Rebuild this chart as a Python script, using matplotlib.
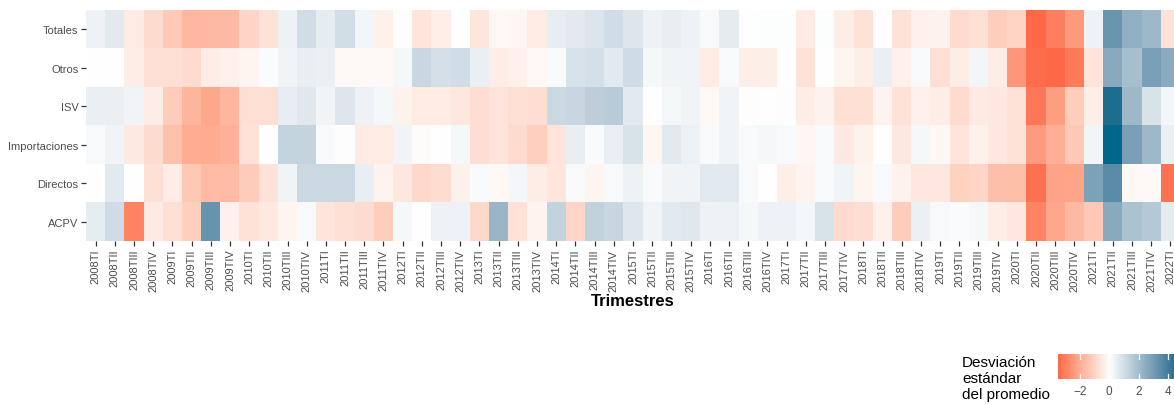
import numpy as np
import matplotlib
matplotlib.use("Agg")
import matplotlib.pyplot as plt
from matplotlib.colors import ListedColormap, Normalize
import matplotlib.transforms as mtransforms

plt.rcParams['font.family'] = ['Liberation Sans', 'DejaVu Sans']

quarters = [
    "2008TI", "2008TII", "2008TIII", "2008TIV", "2009TI", "2009TII", "2009TIII", "2009TIV",
    "2010TI", "2010TII", "2010TIII", "2010TIV", "2011TI", "2011TII", "2011TIII", "2011TIV",
    "2012TI", "2012TII", "2012TIII", "2012TIV", "2013TI", "2013TII", "2013TIII", "2013TIV",
    "2014TI", "2014TII", "2014TIII", "2014TIV", "2015TI", "2015TII", "2015TIII", "2015TIV",
    "2016TI", "2016TII", "2016TIII", "2016TIV", "2017TI", "2017TII", "2017TIII", "2017TIV",
    "2018TI", "2018TII", "2018TIII", "2018TIV", "2019TI", "2019TII", "2019TIII", "2019TIV",
    "2020TI", "2020TII", "2020TIII", "2020TIV", "2021TI", "2021TII", "2021TIII", "2021TIV",
    "2022TI",
]
series = ["Totales", "Otros", "ISV", "Importaciones", "Directos", "ACPV"]

totales = [0.35, 0.61, -0.48, -0.86, -1.30, -1.75, -1.70, -1.70, -1.02, -0.72,
           0.35, 0.98, 0.52, 0.95, 0.23, -0.35, 0.03, -0.64, -0.40, 0.00,
           -0.61, -0.17, -0.20, -0.48, 0.49, 0.61, 0.75, 0.98, 0.72, 0.35,
           0.47, 0.35, 0.17, 0.55, 0.00, 0.05, 0.05, -0.48, 0.06, -0.42,
           -0.70, 0.02, -0.72, -0.37, -0.32, -0.89, -0.78, -1.21, -1.05, -3.50,
           -3.02, -2.45, 0.35, 3.20, 2.38, 2.10, -0.72]
otros = [0.00, 0.00, -0.45, -0.78, -0.78, -0.86, -0.45, -0.37, -0.23, 0.10,
         0.32, 0.47, 0.42, -0.14, -0.12, -0.14, 0.20, 1.15, 0.92, 0.98,
         0.45, -0.45, -0.35, -0.17, 0.12, 0.83, 0.92, 0.58, 1.02, 0.20,
         0.30, 0.32, -0.48, 0.17, -0.40, -0.40, 0.00, -0.72, 0.00, -0.23,
         -0.40, 0.45, -0.35, 0.14, -0.78, -0.42, 0.25, -0.42, -2.50, -3.40,
         -3.50, -3.13, -0.64, 2.54, 1.89, 2.86, 2.48]
isv = [0.44, 0.44, 0.32, -0.42, -1.24, -1.78, -2.14, -1.76, -0.78, -0.78,
       0.50, 0.65, 0.32, 0.72, 0.35, 0.20, -0.32, -0.48, -0.48, -0.58,
       -0.80, -0.64, -0.78, -0.80, 1.12, 1.20, 1.42, 1.51, 0.58, 0.00,
       0.20, 0.30, -0.17, 0.30, 0.04, 0.00, 0.04, -0.45, -0.32, -0.75,
       -0.75, -0.30, -0.70, -0.35, -0.45, -0.89, -0.50, -0.58, -0.72, -3.20,
       -2.33, -1.21, -0.40, 4.48, 2.10, 0.85, 0.22]
importaciones = [0.17, 0.30, -0.53, -0.86, -1.50, -2.00, -2.02, -1.90, -0.72, 0.00,
                 1.26, 1.26, 0.12, 0.04, -0.48, -0.48, 0.30, -0.05, 0.00, 0.20,
                 -0.80, -0.64, -0.86, -1.16, -0.64, 0.47, 0.12, 0.45, 0.83, -0.20,
                 0.58, 0.38, 0.14, 0.32, 0.14, 0.20, 0.14, -0.20, 0.14, -0.50,
                 -0.32, 0.00, -0.58, 0.20, -0.17, -0.64, -0.37, -0.58, -0.72, -2.40,
                 -1.93, -1.33, 0.27, 4.70, 2.88, 2.09, 0.44]
directos = [0.00, 0.61, 0.00, -0.78, -0.42, -1.35, -1.67, -1.67, -1.24, -0.72,
            0.32, 1.12, 1.12, 1.12, 0.47, -0.30, -0.58, -0.94, -0.83, -0.35,
            0.12, -0.17, 0.22, -0.45, -0.61, 0.14, -0.25, 0.14, 0.37, 0.15,
            0.32, 0.30, 0.63, 0.63, 0.14, 0.00, -0.40, -0.30, 0.14, 0.30,
            -0.23, 0.15, -0.32, -0.58, -0.58, -1.13, -1.02, -1.55, -1.57, -3.32,
            -2.20, -2.18, 2.79, 3.49, -0.17, -0.12, -3.30]
acpv = [0.52, 1.02, -2.95, -0.50, -0.78, -1.16, 3.25, -0.35, -0.72, -0.53,
        -0.23, 0.14, -0.64, -0.78, -0.86, -1.19, 0.20, 0.02, 0.35, 0.35,
        -0.95, 2.18, -0.72, -0.30, 1.28, -1.00, 1.30, 1.20, 0.70, 0.32,
        0.61, 0.66, 0.35, 0.38, 0.20, 0.35, 0.35, 0.22, 0.83, -0.89,
        -0.80, -0.35, -1.24, 0.42, 0.17, 0.10, 0.20, -0.45, -0.58, -2.95,
        -2.14, -1.70, -1.33, 2.54, 1.80, 1.60, 0.56]

# ---- diverging palette interpolated in CIELAB (low / mid / high) ----
_M = np.array([[0.4124564, 0.3575761, 0.1804375],
               [0.2126729, 0.7151522, 0.0721750],
               [0.0193339, 0.1191920, 0.9503041]])
_Minv = np.linalg.inv(_M)
_WP = np.array([0.95047, 1.0, 1.08883])


def _to_lab(rgb255):
    c = np.asarray(rgb255, float) / 255.0
    lin = np.where(c <= 0.04045, c / 12.92, ((c + 0.055) / 1.055) ** 2.4)
    xyz = _M @ lin / _WP
    d = 6 / 29
    f = np.where(xyz > d ** 3, np.cbrt(xyz), xyz / (3 * d * d) + 4 / 29)
    return np.array([116 * f[1] - 16, 500 * (f[0] - f[1]), 200 * (f[1] - f[2])])


def _to_rgb(lab):
    L, a, b = lab
    fy = (L + 16) / 116
    fx = fy + a / 500
    fz = fy - b / 200
    d = 6 / 29
    f = np.array([fx, fy, fz])
    xyz = np.where(f > d, f ** 3, 3 * d * d * (f - 4 / 29)) * _WP
    lin = np.clip(_Minv @ xyz, 0, 1)
    return np.where(lin <= 0.0031308, 12.92 * lin, 1.055 * lin ** (1 / 2.4) - 0.055).clip(0, 1)


lab_low = _to_lab((255, 0, 0))
lab_mid = _to_lab((255, 255, 255))
lab_high = _to_lab((0, 104, 139))
cols = []
for p in np.linspace(-1, 1, 511):
    if p < 0:
        lab = lab_mid + (-p) * (lab_low - lab_mid)
    else:
        lab = lab_mid + p * (lab_high - lab_mid)
    cols.append(_to_rgb(lab))
cmap = ListedColormap(cols)

data = np.array([totales, otros, isv, importaciones, directos, acpv])
vabs = np.abs(data).max()
norm = Normalize(-vabs, vabs)

W, H = 1174, 406
fig = plt.figure(figsize=(W / 100, H / 100), dpi=100)
ax = fig.add_axes([86 / W, 1 - 242 / H, (1180 - 86) / W, 231 / H])
ax.imshow(data, cmap=cmap, norm=norm, aspect='auto', interpolation='nearest')
ax.set_xticks(np.arange(len(quarters)))
ax.set_xticklabels(quarters, rotation=90, fontsize=8, color='#4D4D4D')
ax.set_yticks(np.arange(len(series)))
ax.set_yticklabels(series, fontsize=8, color='#4D4D4D')
for s in ax.spines.values():
    s.set_visible(False)
ax.tick_params(length=3.5, width=0.9, color='#333333', pad=2)

fig.text(633 / W, 1 - 306.5 / H, "Trimestres", fontsize=12, fontweight='bold',
         ha='center', va='baseline', color='black')

# ---- legend ----
for txt, yb in [("Desviación", 367.5), ("estándar", 383.5), ("del promedio", 399.5)]:
    fig.text(962 / W, 1 - yb / H, txt, fontsize=11, ha='left', va='baseline', color='black')

dmin, dmax = data.min(), data.max()
ppu = 14.67
x0 = 1109.3 + ppu * dmin
x1 = 1109.3 + ppu * dmax
cax = fig.add_axes([x0 / W, 1 - 380 / H, (x1 - x0) / W, 25 / H])
grad = np.linspace(dmin, dmax, 300)[None, :]
cax.imshow(grad, cmap=cmap, norm=norm, aspect='auto', extent=[dmin, dmax, 0, 1],
           interpolation='bilinear')
cax.set_xlim(dmin, dmax)
cax.set_ylim(0, 1)
cax.set_yticks([])
cax.set_xticks([])
for s in cax.spines.values():
    s.set_visible(False)
tr = mtransforms.blended_transform_factory(cax.transData, cax.transAxes)
for v in [-2, 0, 2, 4]:
    cax.plot([v, v], [0, 0.2], color='white', lw=0.9, transform=tr, clip_on=False)
    cax.plot([v, v], [0.8, 1], color='white', lw=0.9, transform=tr, clip_on=False)
    lab = "\u2212" + str(abs(v)) if v < 0 else str(v)
    cax.text(v, -0.24, lab, transform=tr, ha='center', va='top', fontsize=8.5, color='#4D4D4D')

fig.savefig("out.png", dpi=100)
